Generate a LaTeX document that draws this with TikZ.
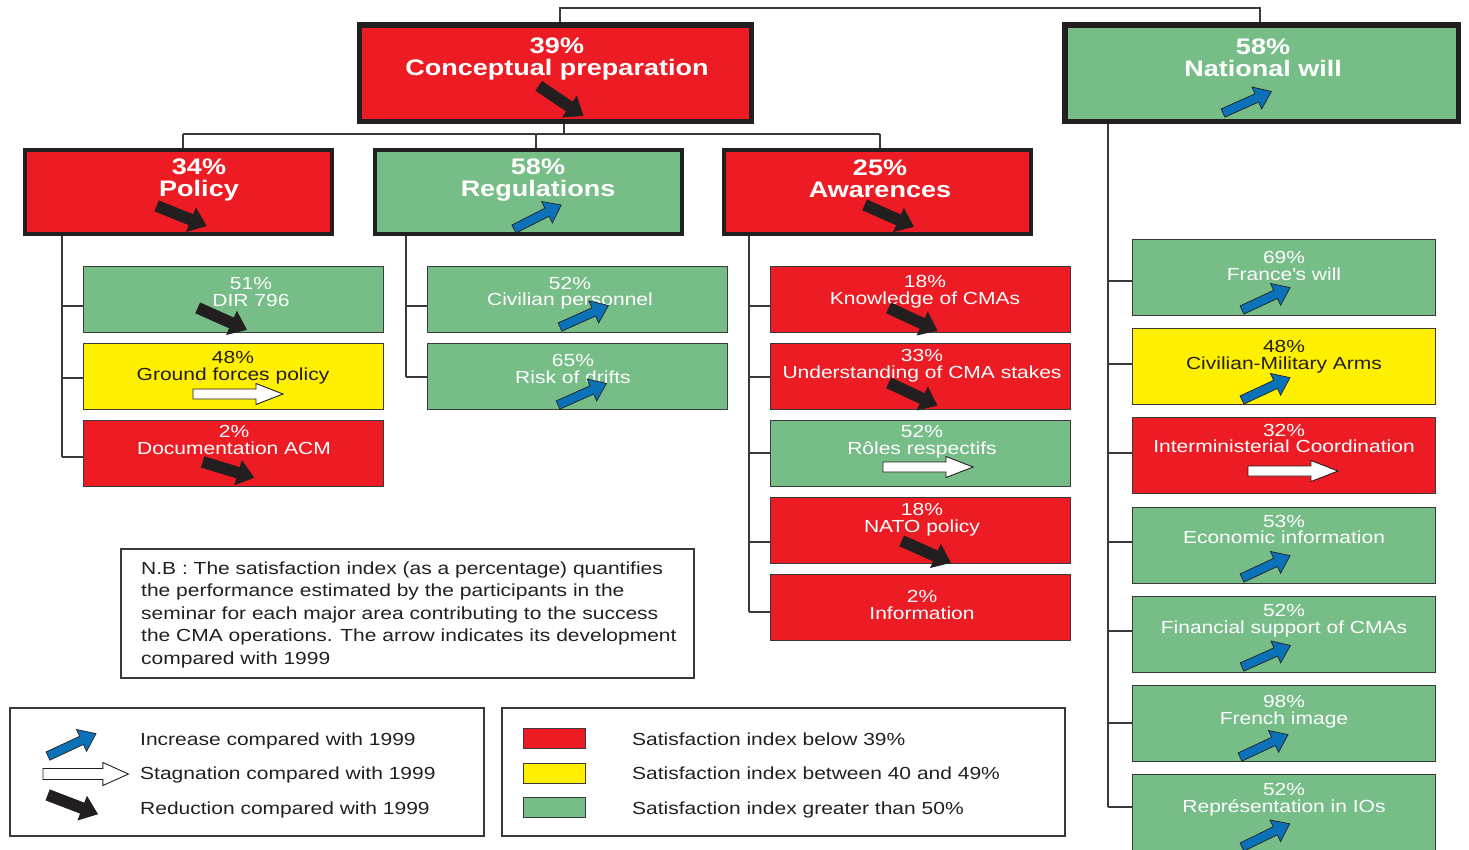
\documentclass[tikz,border=0pt]{standalone}
\usepackage{fontspec}
\setmainfont{Liberation Sans}[FakeStretch=1.2]
\definecolor{cmared}{HTML}{ED1C24}
\definecolor{cmagreen}{HTML}{77BD87}
\definecolor{cmayellow}{HTML}{FFF000}
\definecolor{cmablue}{HTML}{0B72B9}
\definecolor{cmaink}{HTML}{231F20}
\definecolor{linegray}{HTML}{3A3A3A}
\begin{document}
\begin{tikzpicture}[x=1pt, y=-1pt,
  link/.style={draw=linegray, line width=1.3pt},
  rootbox/.style={rectangle, draw=cmaink, line width=5.5pt, minimum width=392pt, minimum height=96.5pt, inner sep=0pt},
  areabox/.style={rectangle, draw=cmaink, line width=4pt, minimum width=307pt, minimum height=84pt, inner sep=0pt},
  itembox/.style={rectangle, draw=linegray, line width=1.2pt, minimum width=300pt, minimum height=66pt, inner sep=0pt},
  natbox/.style={itembox, minimum width=303pt, minimum height=76pt},
  framebox/.style={rectangle, draw=linegray, line width=1.2pt, inner sep=0pt},
  swatch/.style={rectangle, draw=linegray, line width=1pt, minimum width=62pt, minimum height=20pt, inner sep=0pt},
  headtxt/.style={text=white, align=center, inner sep=0pt, font=\fontsize{22.5}{22}\selectfont\bfseries},
  itemtxt/.style={text=white, align=center, inner sep=0pt, font=\fontsize{17.5}{16.5}\selectfont},
  darktxt/.style={itemtxt, text=cmaink},
  legtxt/.style={text=cmaink, anchor=base west, inner sep=0pt, font=\fontsize{17.5}{21}\selectfont},
  pics/uptrend/.style={code={\path[fill=cmablue, draw=cmaink, line width=0.7pt]
    (0,-4.5) -- (37,-4.5) -- (37,-12) -- (53,0) -- (37,12) -- (37,4.5) -- (0,4.5) -- cycle;}},
  pics/downtrend/.style={code={\path[fill=cmaink, draw=cmaink, line width=0.7pt]
    (0,-5.5) -- (37,-5.5) -- (37,-12.5) -- (53,0) -- (37,12.5) -- (37,5.5) -- (0,5.5) -- cycle;}},
  pics/flattrend/.style={code={\path[fill=white, draw=cmaink, line width=0.9pt]
    (0,-5) -- (63,-5) -- (63,-10.5) -- (90,0) -- (63,10.5) -- (63,5) -- (0,5) -- cycle;}},
]
\useasboundingbox (0,0) rectangle (1469,849);
\clip (0,0) rectangle (1469,849);

% ---------- root areas ----------
\node[rootbox, fill=cmared] (concept) at (555.5,73) {};
\node[headtxt] (concept-t) at (557,59) {39\%\\Conceptual preparation};
\pic[rotate=-34] at (539,86) {downtrend};

\node[rootbox, fill=cmagreen, minimum width=393.5pt] (natwill) at (1261.5,73) {};
\node[headtxt] (natwill-t) at (1263,58) {58\%\\National will};
\pic[rotate=24] at (1223,113) {uptrend};

% ---------- second level ----------
\node[areabox, fill=cmared] (policy) at (178.5,192) {};
\node[headtxt] (policy-t) at (199,180) {34\%\\Policy};
\pic[rotate=-22] at (157,206) {downtrend};

\node[areabox, fill=cmagreen] (regul) at (528.5,192) {};
\node[headtxt] (regul-t) at (538,180) {58\%\\Regulations};
\pic[rotate=27] at (514,229) {uptrend};

\node[areabox, fill=cmared] (aware) at (877.5,192) {};
\node[headtxt] (aware-t) at (880,178.5) {25\%\\Awarences};
\pic[rotate=-24] at (865,205) {downtrend};

% ---------- Policy items ----------
\node[itembox, fill=cmagreen] (dir) at (233.5,299.5) {};
\node[itemtxt] (dir-t) at (251,292) {51\%\\DIR 796};
\pic[rotate=-24] at (198,308) {downtrend};

\node[itembox, fill=cmayellow] (ground) at (233.5,376.5) {};
\node[darktxt] (ground-t) at (233,367.5) {48\%\\Ground forces policy};
\pic at (193,394) {flattrend};

\node[itembox, fill=cmared] (doc) at (233.5,453.5) {};
\node[itemtxt] (doc-t) at (234,440) {2\%\\Documentation ACM};
\pic[rotate=-17] at (203,462) {downtrend};

% ---------- Regulations items ----------
\node[itembox, fill=cmagreen] (civpers) at (577.5,299.5) {};
\node[itemtxt] (civpers-t) at (570,293) {52\%\\Civilian personnel};
\pic[rotate=24] at (560,327) {uptrend};

\node[itembox, fill=cmagreen] (drifts) at (577.5,376.5) {};
\node[itemtxt] (drifts-t) at (573,369) {65\%\\Risk of drifts};
\pic[rotate=24] at (558,405) {uptrend};

% ---------- Awareness items ----------
\node[itembox, fill=cmared] (know) at (920.5,299.5) {};
\node[itemtxt] (know-t) at (925,291.5) {18\%\\Knowledge of CMAs};
\pic[rotate=-25] at (889,308) {downtrend};

\node[itembox, fill=cmared] (stakes) at (920.5,376.5) {};
\node[itemtxt] (stakes-t) at (922,365.5) {33\%\\Understanding of CMA stakes};
\pic[rotate=-25] at (889,383) {downtrend};

\node[itembox, fill=cmagreen] (roles) at (920.5,453.5) {};
\node[itemtxt] (roles-t) at (922,441.5) {52\%\\Rôles respectifs};
\pic at (883,467) {flattrend};

\node[itembox, fill=cmared] (nato) at (920.5,530.5) {};
\node[itemtxt] (nato-t) at (922,519.5) {18\%\\NATO policy};
\pic[rotate=-24] at (902,541) {downtrend};

\node[itembox, fill=cmared] (info) at (920.5,607.5) {};
\node[itemtxt] (info-t) at (922,605) {2\%\\Information};

% ---------- National will items ----------
\node[natbox, fill=cmagreen] (france) at (1284,277.5) {};
\node[itemtxt] (france-t) at (1284,266) {69\%\\France\textquotesingle s will};
\pic[rotate=25] at (1242,310) {uptrend};

\node[natbox, fill=cmayellow] (arms) at (1284,366.5) {};
\node[darktxt] (arms-t) at (1284,356.5) {48\%\\Civilian-Military Arms};
\pic[rotate=25] at (1242,400) {uptrend};

\node[natbox, fill=cmared] (inter) at (1284,455.5) {};
\node[itemtxt] (inter-t) at (1284,438.5) {32\%\\Interministerial Coordination};
\pic at (1248,471) {flattrend};

\node[natbox, fill=cmagreen] (econ) at (1284,545.5) {};
\node[itemtxt] (econ-t) at (1284,529.5) {53\%\\Economic information};
\pic[rotate=25] at (1242,578) {uptrend};

\node[natbox, fill=cmagreen] (finance) at (1284,634.5) {};
\node[itemtxt] (finance-t) at (1284,620.5) {52\%\\Financial support of CMAs};
\pic[rotate=24] at (1242,667) {uptrend};

\node[natbox, fill=cmagreen] (image) at (1284,723.5) {};
\node[itemtxt] (image-t) at (1284,711.5) {98\%\\French image};
\pic[rotate=25] at (1240,757) {uptrend};

\node[natbox, fill=cmagreen] (ios) at (1284,812.5) {};
\node[itemtxt] (ios-t) at (1284,799.5) {52\%\\Représentation in IOs};
\pic[rotate=26] at (1242,847) {uptrend};

% ---------- tree connectors ----------
\coordinate (topL) at (560,8);
\coordinate (topR) at (1260,8);
\draw[link] (concept.north -| topL) -- (topL) -- (topR) -- (natwill.north -| topR);

\coordinate (busM) at (564,134);
\coordinate (busL) at (183,134);
\coordinate (busC) at (536,134);
\coordinate (busR) at (880,134);
\draw[link] (concept.south -| busM) -- (busM);
\draw[link] (busL) -- (busR);
\draw[link] (busL) -- (policy.north -| busL);
\draw[link] (busC) -- (regul.north -| busC);
\draw[link] (busR) -- (aware.north -| busR);

\coordinate (p1) at (62,306);  \coordinate (p2) at (62,378);  \coordinate (p3) at (62,457);
\draw[link] (policy.south -| p3) -- (p3);
\foreach \s/\b in {p1/dir, p2/ground, p3/doc} \draw[link] (\s) -- (\s -| \b.west);

\coordinate (r1) at (406,306);  \coordinate (r2) at (406,377);
\draw[link] (regul.south -| r2) -- (r2);
\foreach \s/\b in {r1/civpers, r2/drifts} \draw[link] (\s) -- (\s -| \b.west);

\coordinate (a1) at (749,306);  \coordinate (a2) at (749,377);  \coordinate (a3) at (749,453);
\coordinate (a4) at (749,542);  \coordinate (a5) at (749,612);
\draw[link] (aware.south -| a5) -- (a5);
\foreach \s/\b in {a1/know, a2/stakes, a3/roles, a4/nato, a5/info} \draw[link] (\s) -- (\s -| \b.west);

\coordinate (n1) at (1108,281);  \coordinate (n2) at (1108,364);  \coordinate (n3) at (1108,453);
\coordinate (n4) at (1108,542);  \coordinate (n5) at (1108,631);  \coordinate (n6) at (1108,723);
\coordinate (n7) at (1108,807);
\draw[link] (natwill.south -| n7) -- (n7);
\foreach \s/\b in {n1/france, n2/arms, n3/inter, n4/econ, n5/finance, n6/image, n7/ios} \draw[link] (\s) -- (\s -| \b.west);

% ---------- note ----------
\node[framebox, minimum width=573pt, minimum height=129pt] (note) at (407.5,613.5) {};
\node[anchor=north west, align=left, inner sep=0pt, text=cmaink, font=\fontsize{17.5}{22.5}\selectfont] (note-t) at (141,561.5)
  {N.B : The satisfaction index (as a percentage) quantifies\\
   the performance estimated by the participants in the\\
   seminar for each major area contributing to the success\\
   the CMA operations. The arrow indicates its development\\
   compared with 1999};

% ---------- legends ----------
\node[framebox, minimum width=474pt, minimum height=128pt] (legA) at (247,772) {};
\pic[rotate=25] at (48,756) {uptrend};
\pic[xscale=0.95, yscale=1.1] at (43,774) {flattrend};
\pic[rotate=-21] at (48,795) {downtrend};
\node[legtxt] (legA-1) at (140,745.3) {Increase compared with 1999};
\node[legtxt] (legA-2) at (140,779.3) {Stagnation compared with 1999};
\node[legtxt] (legA-3) at (140,814.3) {Reduction compared with 1999};

\node[framebox, minimum width=563pt, minimum height=128pt] (legB) at (783.5,772) {};
\node[swatch, fill=cmared] (sw-red) at (554,738) {};
\node[swatch, fill=cmayellow] (sw-yellow) at (554,773) {};
\node[swatch, fill=cmagreen] (sw-green) at (554,807) {};
\node[legtxt] (legB-1) at (632,745.3) {Satisfaction index below 39\%};
\node[legtxt] (legB-2) at (632,779.3) {Satisfaction index between 40 and 49\%};
\node[legtxt] (legB-3) at (632,814.3) {Satisfaction index greater than 50\%};
\end{tikzpicture}
\end{document}
